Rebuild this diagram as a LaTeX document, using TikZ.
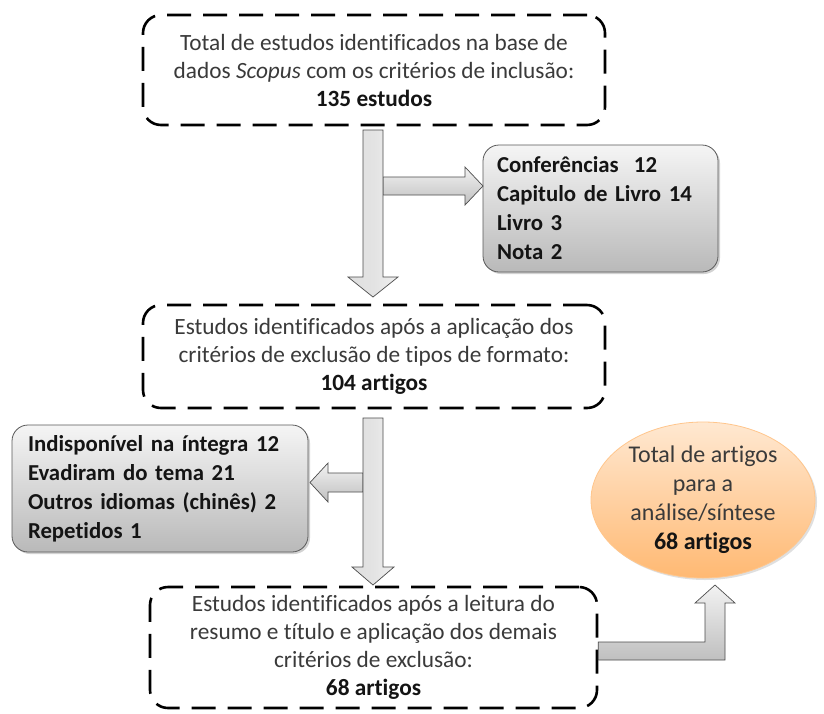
\documentclass[tikz,border=0pt]{standalone}
\usepackage{fontspec}
\setmainfont{Carlito}[Ligatures={NoCommon}]
\usetikzlibrary{shapes.geometric,shadows}
\definecolor{txt}{HTML}{3A3A3A}
\definecolor{bold}{HTML}{141414}
\tikzset{
  dashbox/.style={draw=black, line width=2.6pt, dash pattern=on 24pt off 12pt, rounded corners=18pt,
    align=center, text=txt, font=\fontsize{23.3}{28}\selectfont, inner sep=0pt},
  graybox/.style={draw=gray!70!black, line width=0.8pt, rounded corners=16pt,
    top color=gray!8, bottom color=gray!55, drop shadow={opacity=0.35, shadow xshift=2pt, shadow yshift=-2pt},
    align=left, text=bold, font=\fontsize{22.8}{29}\selectfont\bfseries, inner sep=0pt},
  ovalbox/.style={ellipse, draw=orange!45, line width=0.8pt, top color=orange!18, bottom color=orange!55,
    drop shadow={opacity=0.25, shadow xshift=2pt, shadow yshift=-2pt},
    align=center, text=txt, font=\fontsize{24}{29}\selectfont, inner sep=0pt},
  blockarrow/.style={draw=gray!60!black, line width=0.7pt, line join=miter},
  varrow/.style={blockarrow, left color=gray!25, right color=gray!12, middle color=gray!22},
  harrow/.style={blockarrow, top color=gray!10, bottom color=gray!50}
}
\begin{document}
\begin{tikzpicture}[x=1pt,y=-1pt]
\useasboundingbox (0,0) rectangle (824,713);
\fill[white] (0,0) rectangle (824,713);

% boxes
\node[dashbox, minimum width=462pt, minimum height=110pt] (b1) at (374,70)
  {Total de estudos identificados na base de\\ dados \textit{Scopus} com os critérios de inclusão:\\ \textcolor{bold}{\textbf{135 estudos}}};
\node[dashbox, minimum width=462pt, minimum height=103pt] (b2) at (374,356.5)
  {Estudos identificados após a aplicação dos\\ critérios de exclusão de tipos de formato:\\ \textcolor{bold}{\textbf{104 artigos}}};
\node[dashbox, minimum width=447pt, minimum height=121pt] (b3) at (373.5,647.5)
  {Estudos identificados após a leitura do\\ resumo e título e aplicação dos demais\\ critérios de exclusão:\\ \textcolor{bold}{\textbf{68 artigos}}};

\node[graybox, minimum width=235pt, minimum height=127pt, text width=207pt] (g1) at (600.5,208.5)
  {Conferências\ \ 12\\ Capitulo de Livro 14\\ Livro 3\\ Nota 2};
\node[graybox, minimum width=296pt, minimum height=127pt, text width=264pt] (g2) at (160,488.5)
  {Indisponível na íntegra 12\\ Evadiram do tema 21\\ Outros idiomas (chinês) 2\\ Repetidos 1};

\node[ovalbox, minimum width=224pt, minimum height=156pt] (e1) at (703,500)
  {Total de artigos\\ para a\\ análise/síntese\\ \textcolor{bold}{\textbf{68 artigos}}};

% arrow 1 with branch to the right
\draw[harrow] (383,177) -- (465,177) -- (465,167) -- (483,186) -- (465,205) -- (465,195) -- (383,195) -- cycle;
\draw[varrow] (363,130) -- (383,130) -- (383,277) -- (398,277) -- (373,297) -- (348,277) -- (363,277) -- cycle;

% arrow 2 with branch to the left
\draw[harrow] (363,473) -- (328,473) -- (328,463) -- (310,482.5) -- (328,502) -- (328,492) -- (363,492) -- cycle;
\draw[varrow] (363,418) -- (383,418) -- (383,567) -- (394,567) -- (373,585) -- (352,567) -- (363,567) -- cycle;

% bent arrow to the result
\draw[harrow] (b3.east |- 0,642) -- (705,642) -- (705,603) -- (695,603) -- (715,585) -- (735,603) -- (725,603) -- (725,660) -- (b3.east |- 0,660) -- cycle;
\end{tikzpicture}
\end{document}
